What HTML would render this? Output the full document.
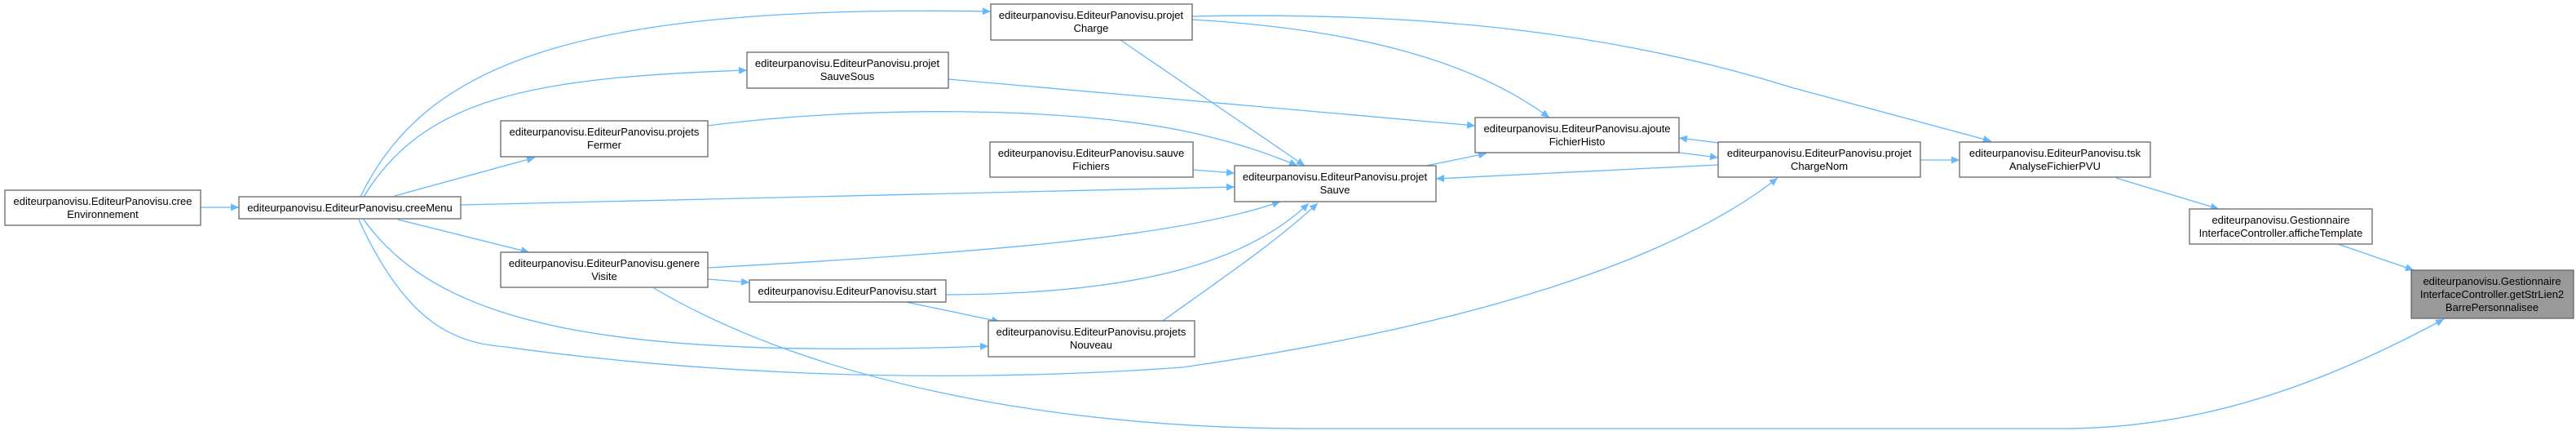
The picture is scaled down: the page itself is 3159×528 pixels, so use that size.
<!DOCTYPE html>
<html><head><meta charset="utf-8"><style>
html,body{margin:0;padding:0;background:#fff;}
svg{display:block;}
text{font-family:"Liberation Sans",Arial,sans-serif;font-size:13px;fill:#000;}
.n{fill:#fff;stroke:#666;stroke-width:1.3;}
.e{fill:none;stroke:#63b8ff;stroke-width:1.3;marker-end:url(#a);}
</style></head><body>
<svg width="3159" height="528" viewBox="0 0 3159 528" xmlns="http://www.w3.org/2000/svg">
<defs><marker id="a" markerWidth="11" markerHeight="9" refX="10" refY="4.5" orient="auto" markerUnits="userSpaceOnUse"><path d="M0,0 L10,4.5 L0,9 z" fill="#63b8ff"/></marker></defs>
<path class="e" d="M246,254 L293,254"/>
<path class="e" d="M442,241 C520,80 700,5 1215,14"/>
<path class="e" d="M446,241 C520,120 650,95 916,86"/>
<path class="e" d="M484,240 L656,193"/>
<path class="e" d="M565,251 L1514,229"/>
<path class="e" d="M488,269 L649,309"/>
<path class="e" d="M446,269 C540,400 750,440 1212,424"/>
<path class="e" d="M440,269 C500,400 560,420 620,425 C800,450 1100,475 1450,450 C1800,400 2050,320 2180,218"/>
<path class="e" d="M802,353 C1000,470 1300,525 1600,525 L2531,525 C2700,525 2850,470 2997,391"/>
<path class="e" d="M868,342 L919,346"/>
<path class="e" d="M868,328 C1200,310 1450,290 1570,247"/>
<path class="e" d="M1160,361 C1400,360 1530,320 1605,249"/>
<path class="e" d="M1111,370 L1226,394"/>
<path class="e" d="M1426,393 C1500,340 1560,300 1616,249"/>
<path class="e" d="M868,154 C1050,130 1300,130 1450,160 C1520,175 1560,190 1591,203"/>
<path class="e" d="M1374,49 L1600,203"/>
<path class="e" d="M1462,24 C1650,35 1800,70 1900,144"/>
<path class="e" d="M1462,20 C1700,15 1950,30 2200,108 L2442,173"/>
<path class="e" d="M1163,97 L1809,154"/>
<path class="e" d="M1463,208 L1514,212"/>
<path class="e" d="M1749,203 L1823,188"/>
<path class="e" d="M2059,187 L2107,193"/>
<path class="e" d="M2107,175 L2059,169"/>
<path class="e" d="M2107,202 L1761,219"/>
<path class="e" d="M2355,196 L2403,196"/>
<path class="e" d="M2595,218 L2721,256"/>
<path class="e" d="M2867,299 L2960,331"/>

<g text-anchor="middle">
<rect class="n" x="6" y="233" width="240" height="43"/><text x="126" y="251">editeurpanovisu.EditeurPanovisu.cree</text><text x="126" y="267">Environnement</text>
<rect class="n" x="293" y="241" width="272" height="27"/><text x="429" y="259">editeurpanovisu.EditeurPanovisu.creeMenu</text>
<rect class="n" x="614" y="148" width="254" height="44"/><text x="741" y="166">editeurpanovisu.EditeurPanovisu.projets</text><text x="741" y="182">Fermer</text>
<rect class="n" x="916" y="64" width="247" height="44"/><text x="1039" y="82">editeurpanovisu.EditeurPanovisu.projet</text><text x="1039" y="98">SauveSous</text>
<rect class="n" x="614" y="309" width="254" height="43"/><text x="741" y="327">editeurpanovisu.EditeurPanovisu.genere</text><text x="741" y="343">Visite</text>
<rect class="n" x="919" y="343" width="241" height="27"/><text x="1039" y="361">editeurpanovisu.EditeurPanovisu.start</text>
<rect class="n" x="1215" y="5" width="247" height="44"/><text x="1338" y="23">editeurpanovisu.EditeurPanovisu.projet</text><text x="1338" y="39">Charge</text>
<rect class="n" x="1214" y="174" width="249" height="43"/><text x="1338" y="192">editeurpanovisu.EditeurPanovisu.sauve</text><text x="1338" y="208">Fichiers</text>
<rect class="n" x="1514" y="203" width="247" height="44"/><text x="1637" y="221">editeurpanovisu.EditeurPanovisu.projet</text><text x="1637" y="237">Sauve</text>
<rect class="n" x="1212" y="393" width="253" height="44"/><text x="1338" y="411">editeurpanovisu.EditeurPanovisu.projets</text><text x="1338" y="427">Nouveau</text>
<rect class="n" x="1809" y="144" width="250" height="43"/><text x="1934" y="162">editeurpanovisu.EditeurPanovisu.ajoute</text><text x="1934" y="178">FichierHisto</text>
<rect class="n" x="2107" y="174" width="248" height="43"/><text x="2231" y="192">editeurpanovisu.EditeurPanovisu.projet</text><text x="2231" y="208">ChargeNom</text>
<rect class="n" x="2403" y="174" width="234" height="43"/><text x="2520" y="192">editeurpanovisu.EditeurPanovisu.tsk</text><text x="2520" y="208">AnalyseFichierPVU</text>
<rect class="n" x="2685" y="256" width="224" height="43"/><text x="2797" y="274">editeurpanovisu.Gestionnaire</text><text x="2797" y="290">InterfaceController.afficheTemplate</text>
<rect x="2957" y="331" width="199" height="59" fill="#999" stroke="#666" stroke-width="1.3"/><text x="3056" y="349">editeurpanovisu.Gestionnaire</text><text x="3056" y="365">InterfaceController.getStrLien2</text><text x="3056" y="381">BarrePersonnalisee</text>
</g>
</svg>
</body></html>
